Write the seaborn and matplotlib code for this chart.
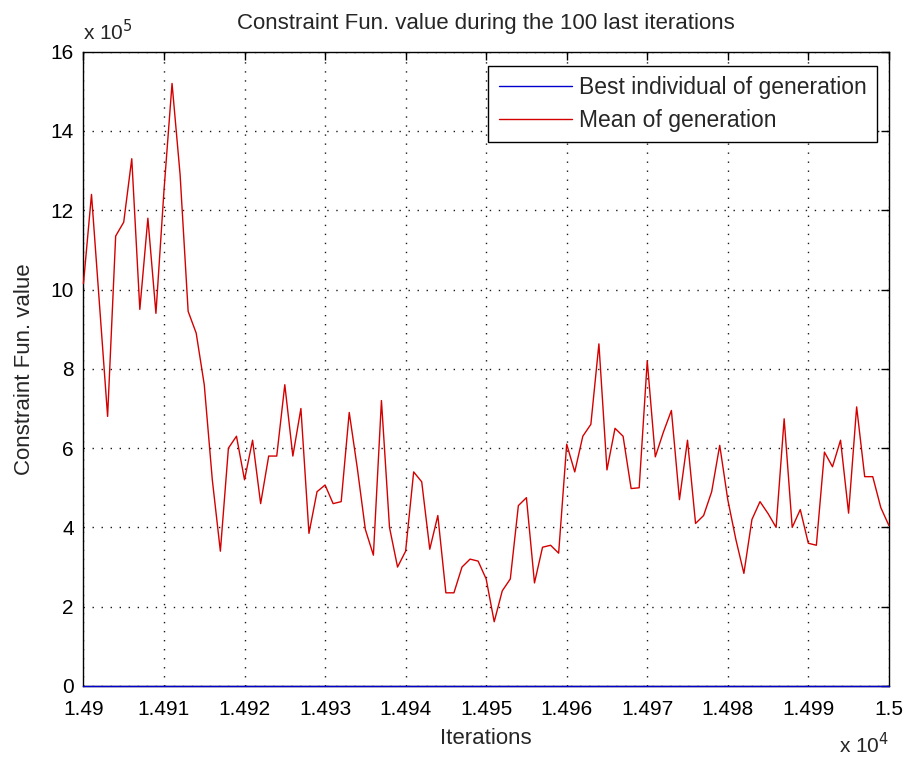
import matplotlib
matplotlib.use("Agg")
import matplotlib.pyplot as plt
from matplotlib.ticker import FuncFormatter, FixedLocator
import pandas as pd
import seaborn as sns

# Generations of the last 100 iterations of the run
iterations = list(range(14900, 15001))

# Constraint function value of the population mean (units of 1e5)
mean_vals_e5 = [
    10.15, 12.4, 9.6, 6.8, 11.35, 11.7, 13.3, 9.5, 11.8, 9.4,
    12.5, 15.2, 12.9, 9.45, 8.9, 7.6, 5.2, 3.4, 6.0, 6.3,
    5.2, 6.2, 4.6, 5.8, 5.8, 7.6, 5.8, 7.0, 3.85, 4.9,
    5.07, 4.6, 4.65, 6.9, 5.5, 3.95, 3.3, 7.2, 4.0, 3.0,
    3.4, 5.4, 5.15, 3.45, 4.3, 2.35, 2.35, 3.0, 3.2, 3.15,
    2.7, 1.62, 2.4, 2.7, 4.55, 4.75, 2.6, 3.5, 3.55, 3.35,
    6.1, 5.4, 6.3, 6.6, 8.63, 5.45, 6.5, 6.3, 4.98, 5.0,
    8.2, 5.78, 6.4, 6.95, 4.7, 6.2, 4.1, 4.3, 4.9, 6.07,
    4.7, 3.7, 2.84, 4.2, 4.65, 4.35, 4.0, 6.74, 4.0, 4.45,
    3.6, 3.55, 5.9, 5.53, 6.2, 4.36, 7.04, 5.28, 5.28, 4.5,
    4.05,
]

# Constraint function value of the best individual (units of 1e5)
best_vals_e5 = [
    0, 0, 0, 0, 0, 0, 0, 0, 0, 0,
    0, 0, 0, 0, 0, 0, 0, 0, 0, 0,
    0, 0, 0, 0, 0, 0, 0, 0, 0, 0,
    0, 0, 0, 0, 0, 0, 0, 0, 0, 0,
    0, 0, 0, 0, 0, 0, 0, 0, 0, 0,
    0, 0, 0, 0, 0, 0, 0, 0, 0, 0,
    0, 0, 0, 0, 0, 0, 0, 0, 0, 0,
    0, 0, 0, 0, 0, 0, 0, 0, 0, 0,
    0, 0, 0, 0, 0, 0, 0, 0, 0, 0,
    0, 0, 0, 0, 0, 0, 0, 0, 0, 0,
    0,
]

series_names = ["Best individual of generation", "Mean of generation"]
series_colors = ["#0000cc", "#d40000"]

x_tick_iters = [14900, 14910, 14920, 14930, 14940, 14950,
                14960, 14970, 14980, 14990, 15000]
y_tick_e5 = [0, 2, 4, 6, 8, 10, 12, 14, 16]

X_SCALE = 1e4
Y_SCALE = 1e5

df = pd.concat([
    pd.DataFrame({"iteration": iterations,
                  "value": [v * Y_SCALE for v in best_vals_e5],
                  "series": series_names[0]}),
    pd.DataFrame({"iteration": iterations,
                  "value": [v * Y_SCALE for v in mean_vals_e5],
                  "series": series_names[1]}),
], ignore_index=True)

sns.set_style("white")
plt.rcParams["font.family"] = ["Liberation Sans", "DejaVu Sans"]

fig = plt.figure(figsize=(9.07, 7.65), dpi=100, facecolor="white")
ax = fig.add_axes([0.092, 0.1033, 0.888, 0.8291])

sns.lineplot(data=df, x="iteration", y="value", hue="series",
             hue_order=series_names,
             palette=dict(zip(series_names, series_colors)),
             linewidth=1.0, legend=False, ax=ax, zorder=3)

# best-individual trace sits on the x axis, keep it visible over the spine
for line in ax.lines:
    line.set_clip_on(False)

ax.set_xlim(iterations[0], iterations[-1])
ax.set_ylim(0, 16 * Y_SCALE)

ax.xaxis.set_major_locator(FixedLocator(x_tick_iters))
ax.yaxis.set_major_locator(FixedLocator([t * Y_SCALE for t in y_tick_e5]))
ax.xaxis.set_major_formatter(FuncFormatter(lambda v, p: "%g" % round(v / X_SCALE, 4)))
ax.yaxis.set_major_formatter(FuncFormatter(lambda v, p: "%g" % round(v / Y_SCALE, 4)))

ax.grid(True, color="black", linestyle=(0, (1, 5.5)), linewidth=1.0, alpha=0.9)
ax.set_axisbelow(True)

for side in ["top", "bottom", "left", "right"]:
    ax.spines[side].set_visible(True)
    ax.spines[side].set_color("black")
    ax.spines[side].set_linewidth(1.0)

ax.tick_params(axis="both", direction="in", top=True, right=True,
               length=6, width=1.0, colors="black", labelsize=15)
ax.tick_params(axis="x", pad=10)
ax.tick_params(axis="y", pad=7)

ax.set_title("Constraint Fun. value during the 100 last iterations",
             fontsize=16, pad=16)
ax.set_xlabel("Iterations", fontsize=16)
ax.set_ylabel("Constraint Fun. value", fontsize=16)
ax.xaxis.set_label_coords(0.5, -0.066)
ax.yaxis.set_label_coords(-0.060, 0.5)

# exponent multipliers for the scaled tick labels
ax.text(0.0, 1.012, r"x 10$^{5}$", transform=ax.transAxes,
        ha="left", va="bottom", fontsize=15)
ax.text(1.0, -0.072, r"x 10$^{4}$", transform=ax.transAxes,
        ha="right", va="top", fontsize=15)

handles = ax.lines[:2]
leg = ax.legend(handles, series_names, loc="upper right",
                bbox_to_anchor=(0.985, 0.978), borderaxespad=0.0,
                fontsize=16.5, frameon=True, fancybox=False, shadow=False,
                framealpha=1.0, edgecolor="black", handlelength=3.2,
                handletextpad=0.3, labelspacing=0.42, borderpad=0.45)
leg.get_frame().set_linewidth(1.0)

fig.savefig("out.png", dpi=100, facecolor="white")
